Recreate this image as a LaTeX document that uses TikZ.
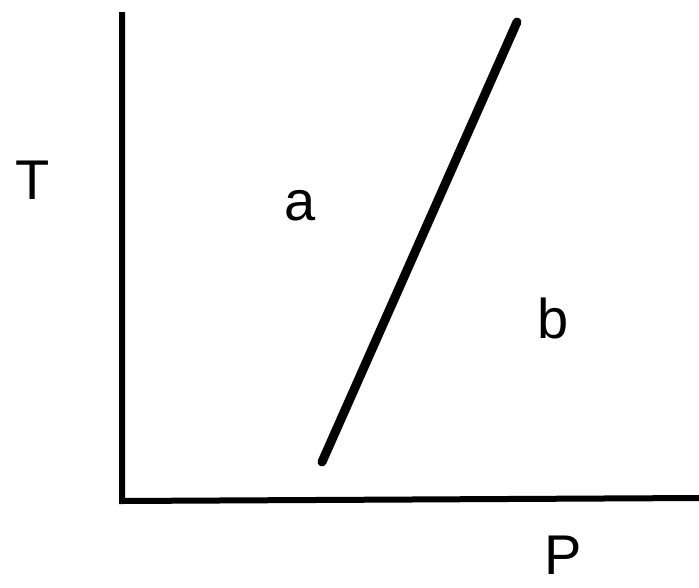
\documentclass[tikz,border=0pt]{standalone}
\usepackage{fontspec}
\setmainfont{Liberation Sans}
\begin{document}
\begin{tikzpicture}[x=1pt,y=-1pt,
  axis/.style={line width=6pt,line cap=butt},
  curve/.style={line width=9pt,line cap=round},
  lbl/.style={font=\fontsize{56}{60}\selectfont,inner sep=0pt}]
\useasboundingbox[fill=white] (0,0) rectangle (699,587);
\coordinate (top) at (122,12);
\coordinate (origin) at (122,498);
\coordinate (right) at (699,498);
\draw[axis] (top) -- ([yshift=-3pt]origin) -- (right);
\coordinate (c1) at (322,462);
\coordinate (c2) at (517,22);
\draw[curve] (c1) -- (c2);
\node[lbl] (T) at (33,180) {T};
\node[lbl] (a) at (300,206) {a};
\node[lbl] (b) at (553,318) {b};
\node[lbl] (P) at (563,555) {P};
\end{tikzpicture}
\end{document}
